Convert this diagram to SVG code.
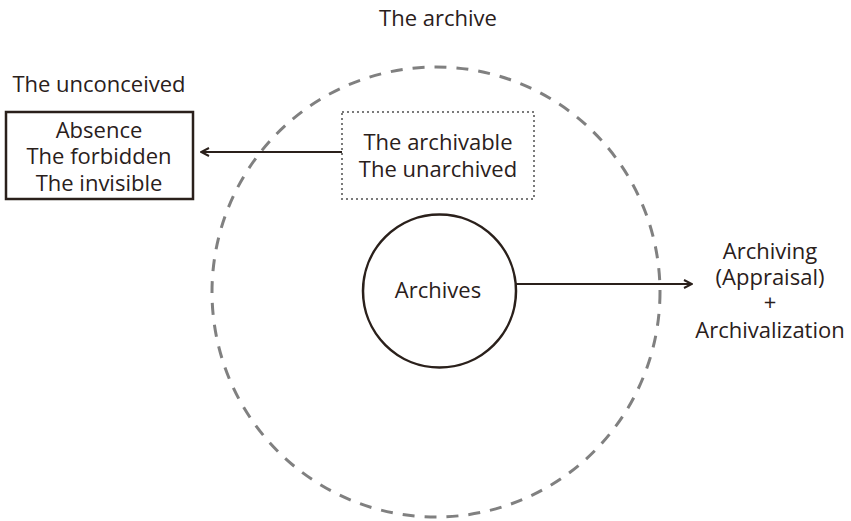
<svg xmlns="http://www.w3.org/2000/svg" width="851" height="521" viewBox="0 0 851 521">
  <style>
    .t { font-family: "Open Sans", "Noto Sans", "DejaVu Sans", sans-serif; font-size: 22px; fill: #2a201b; text-anchor: middle; }
    .ink { stroke: #2a201b; fill: none; }
  </style>
  <defs>
    <marker id="head" viewBox="0 0 10 10" refX="9" refY="5" markerWidth="10" markerHeight="10" markerUnits="userSpaceOnUse" orient="auto">
      <path d="M1,1 L9,5 L1,9" fill="none" stroke="#2a201b" stroke-width="2"/>
    </marker>
  </defs>
  <rect width="851" height="521" fill="#ffffff"/>

  <!-- the archive boundary -->
  <g id="archive">
    <ellipse cx="436" cy="292" rx="224" ry="225" fill="none" stroke="#808080" stroke-width="3" stroke-dasharray="12 10"/>
    <text class="t" x="438" y="26">The archive</text>
  </g>

  <g id="unconceived">
    <text class="t" x="99" y="92">The unconceived</text>
    <rect class="ink" x="6" y="112" width="187" height="87" stroke-width="2.5"/>
    <text class="t" x="99" y="138">Absence</text>
    <text class="t" x="99" y="164">The forbidden</text>
    <text class="t" x="99" y="191">The invisible</text>
  </g>

  <g id="archivable">
    <rect x="342" y="112" width="192" height="87" fill="#ffffff" stroke="#7a7a7a" stroke-width="2" stroke-dasharray="2 3"/>
    <text class="t" x="438" y="150">The archivable</text>
    <text class="t" x="438" y="177">The unarchived</text>
  </g>

  <g id="archives">
    <circle class="ink" cx="439.5" cy="291" r="76.5" stroke-width="2.5"/>
    <text class="t" x="438" y="298">Archives</text>
  </g>

  <g id="archiving">
    <text class="t" x="770" y="259">Archiving</text>
    <text class="t" x="770" y="285">(Appraisal)</text>
    <text class="t" x="770" y="310">+</text>
    <text class="t" x="770" y="338">Archivalization</text>
  </g>

  <g id="connectors">
    <line class="ink" x1="342" y1="152" x2="201" y2="152" stroke-width="2" marker-end="url(#head)"/>
    <line class="ink" x1="516" y1="284" x2="692" y2="284" stroke-width="2" marker-end="url(#head)"/>
  </g>
</svg>
